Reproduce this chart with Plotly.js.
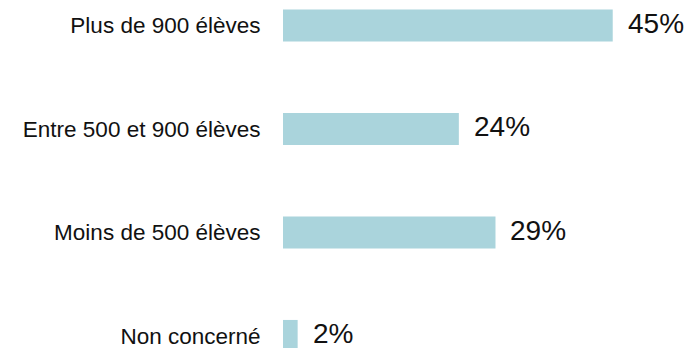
<!DOCTYPE html>
<html>
<head>
<meta charset="utf-8">
<script src="https://cdn.plot.ly/plotly-3.0.1.min.js"></script>
<style>html,body{margin:0;padding:0;background:#fff;}#chart{width:692px;height:348px;}</style>
</head>
<body>
<div id="chart"></div>
<script>
const categories = ["Plus de 900 élèves", "Entre 500 et 900 élèves", "Moins de 500 élèves", "Non concerné"];
const values = [45, 24, 29, 2];
const valueLabels = ["45%", "24%", "29%", "2%"];

const trace = {
  type: 'bar',
  orientation: 'h',
  y: categories,
  x: values,
  width: 0.31,
  marker: {color: '#aad4dc', line: {width: 0}},
  hoverinfo: 'none'
};

const annotations = categories.map((c, i) => ({
  x: values[i], y: c, xref: 'x', yref: 'y',
  text: valueLabels[i], showarrow: false,
  xanchor: 'left', yanchor: 'middle', xshift: 14, yshift: 2,
  borderpad: 0,
  font: {family: 'Liberation Sans, Arial, sans-serif', size: 28, color: '#111'}
}));

const layout = {
  width: 692, height: 348,
  margin: {l: 283, r: 6, t: 0, b: 0},
  paper_bgcolor: '#fff', plot_bgcolor: '#fff',
  showlegend: false,
  xaxis: {range: [0, 55], visible: false, fixedrange: true},
  yaxis: {
    type: 'category',
    range: [3.116, -0.246],
    showgrid: false, zeroline: false, showline: false,
    ticks: 'outside', ticklen: 17, tickcolor: 'rgba(0,0,0,0)',
    tickfont: {family: 'Liberation Sans, Arial, sans-serif', size: 22.5, color: '#111'}
  },
  annotations: annotations
};

Plotly.newPlot('chart', [trace], layout, {displayModeBar: false, staticPlot: true});
</script>
</body>
</html>
